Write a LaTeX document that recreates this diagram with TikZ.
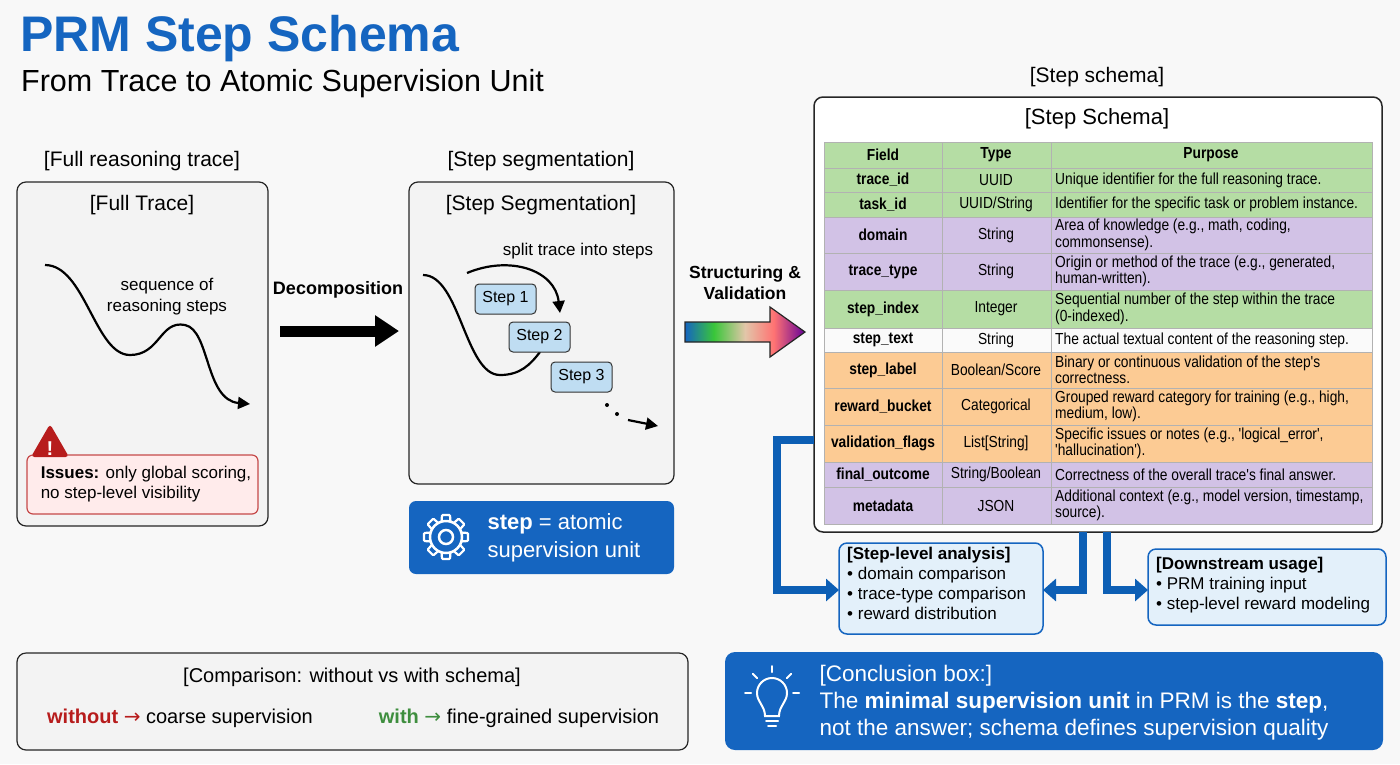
\documentclass[tikz,border=0pt]{standalone}
\usepackage{fontspec}
\setmainfont{Liberation Sans}
\newfontfamily\narrow[FakeStretch=0.86]{Liberation Sans}
\newfontfamily\dejavu{DejaVu Sans}
\usetikzlibrary{arrows.meta,shapes.geometric}
\definecolor{bg}{HTML}{F8F8F8}
\definecolor{boxf}{HTML}{F3F3F3}
\definecolor{tblue}{HTML}{1565C0}
\definecolor{dblue}{HTML}{0D5FB5}
\definecolor{lblue}{HTML}{E3F0FA}
\definecolor{sblue}{HTML}{BFDDF2}
\definecolor{rgreen}{HTML}{B5DDA4}
\definecolor{rviolet}{HTML}{D2C2E6}
\definecolor{rorange}{HTML}{FCCB94}
\definecolor{rwhite}{HTML}{FAFAFA}
\definecolor{wred}{HTML}{B71C1C}
\definecolor{wgreen}{HTML}{3E8E3E}
\pgfdeclarehorizontalshading{rainbow}{100bp}{color(0bp)=(tblue); color(25bp)=(tblue); color(37bp)=(green!55!gray); color(50bp)=(brown!45!white); color(62bp)=(red!55!white); color(75bp)=(violet!80!blue); color(100bp)=(violet!80!blue)}
\newcommand{\trow}[6]{%
  \fill[#3] (824,#1) rectangle (1372,#2);
  \draw[gray!60] (824,#1) rectangle (1372,#2);
  \draw[gray!60] (942,#1) -- (942,#2) (1051,#1) -- (1051,#2);
  \node[cell,font=\narrow\fontsize{16}{17}\selectfont\bfseries] at (883,{(#1+#2)/2}) {#4};
  \node[cell] at (996,{(#1+#2)/2}) {#5};
  \node[cell,anchor=west,align=left] at (1055,{(#1+#2)/2}) {#6};
}
\begin{document}
\begin{tikzpicture}[x=1pt,y=-1pt,
  panel/.style={draw=black!85,line width=1.2pt,rounded corners=9pt,fill=boxf},
  lbl/.style={font=\fontsize{21}{23}\selectfont,inner sep=0},
  cell/.style={font=\narrow\fontsize{16}{16.5}\selectfont,inner sep=0},
  stepb/.style={draw=black!80,line width=1pt,fill=sblue,rounded corners=4pt,minimum width=61pt,minimum height=30pt,font=\fontsize{16}{17}\selectfont},
  barrow/.style={draw=dblue,line width=8pt,-{Triangle[width=22pt,length=13pt]}},
  infob/.style={draw=tblue,line width=1.5pt,fill=lblue,rounded corners=8pt}]
\fill[bg] (0,0) rectangle (1400,764);
\useasboundingbox (0,0) rectangle (1400,764);
% titles
\node[anchor=west,inner sep=0,text=tblue,font=\fontsize{50}{52}\selectfont\bfseries] (title) at (20,39) {PRM Step Schema};
\node[anchor=west,inner sep=0,font=\fontsize{30.5}{32}\selectfont] (sub) at (21,84) {From Trace to Atomic Supervision Unit};
% full trace
\node[lbl] (l1) at (142,161) {[Full reasoning trace]};
\draw[panel] (17,182) rectangle (268,526);
\node[lbl] (t1) at (142,205) {[Full Trace]};
\draw[line width=2.2pt,-{Triangle[width=12pt,length=12pt]}] (45,265) .. controls (85,265) and (95,355) .. (130,355) .. controls (160,355) and (160,320) .. (185,325) .. controls (210,330) and (205,400) .. (250,404);
\node[align=center,font=\fontsize{17}{21}\selectfont] (seq) at (167,297) {sequence of\\reasoning steps};
\node[draw=wred!80,line width=1.2pt,fill=red!8,rounded corners=6pt,minimum width=231pt,minimum height=59pt] (iss) at (142.5,484.5) {};
\node[align=left,font=\fontsize{17}{20}\selectfont] (isst) at (146,484) {\textbf{Issues:} only global scoring,\\no step-level visibility};
\node[regular polygon,regular polygon sides=3,fill=wred,draw=wred,line width=2pt,rounded corners=2pt,minimum size=40pt,inner sep=0] (warn) at (50,446) {};
\node[text=white,font=\fontsize{20}{20}\selectfont\bfseries] (ex) at (50,449) {!};
% decomposition
\node[font=\fontsize{18}{20}\selectfont\bfseries] (dec) at (338,290) {Decomposition};
\coordinate (d1) at (280,331); \coordinate (d2) at (399,331);
\draw[line width=11pt,-{Triangle[width=30pt,length=24pt]}] (d1) -- (d2);
% segmentation
\node[lbl] (l2) at (541,161) {[Step segmentation]};
\draw[panel] (409,182) rectangle (674,484);
\node[lbl] (t2) at (541,205) {[Step Segmentation]};
\node[font=\fontsize{17}{19}\selectfont] (split) at (578,251) {split trace into steps};
\draw[line width=2.2pt] (423,275) .. controls (460,275) and (465,375) .. (500,375) .. controls (520,375) and (530,365) .. (540,352);
\draw[line width=2.2pt,-{Triangle[width=12pt,length=12pt]}] (467,273) .. controls (510,255) and (555,270) .. (560,313);
\node[stepb] (s1) at (505.5,299) {Step 1};
\node[stepb] (s2) at (539.5,337) {Step 2};
\node[stepb] (s3) at (581.5,377) {Step 3};
\fill (607,405) circle (2pt) (617,414) circle (2pt);
\coordinate (e1) at (628,420); \coordinate (e2) at (658,426);
\draw[line width=2.2pt,-{Triangle[width=12pt,length=12pt]}] (e1) -- (e2);
% step atomic box
\node[fill=tblue,rounded corners=7pt,minimum width=265pt,minimum height=73pt] (atom) at (541.5,537.5) {};
\node[text=white,align=left,font=\fontsize{22}{28}\selectfont,anchor=west] (atomt) at (484,538) {\textbf{step} = atomic\\supervision unit};
\begin{scope}[shift={(446,537)},white]
\foreach \a in {0,45,...,315} \draw[rotate=\a,line width=2.2pt,rounded corners=1pt] (-4.5,-15) -- (-4,-22) -- (4,-22) -- (4.5,-15);
\draw[line width=2.5pt] (0,0) circle (16);
\draw[line width=2.5pt] (0,0) circle (7);
\end{scope}
% structuring arrow
\node[align=center,font=\fontsize{17.5}{21}\selectfont\bfseries] (struct) at (745,283) {Structuring \&\\Validation};
\shade[shading=rainbow,draw=black!85,line width=1.2pt] (685,322) -- (770,322) -- (770,307) -- (805,332) -- (770,357) -- (770,342) -- (685,342) -- cycle;
\node[inner sep=0] (sarrow) at (745,332) {};
% schema
\node[lbl] (l3) at (1097,77) {[Step schema]};
\draw[panel,fill=white,line width=1.5pt] (814,97) rectangle (1382,532);
\node[font=\fontsize{22}{24}\selectfont,inner sep=0] (t3) at (1097,119) {[Step Schema]};
\trow{142}{168}{rgreen}{Field}{\bfseries Type}{}
\node[cell,font=\narrow\fontsize{16}{17}\selectfont\bfseries] (purp) at (1211,155) {Purpose};
\trow{168}{192}{rgreen}{trace\_id}{UUID}{Unique identifier for the full reasoning trace.}
\trow{192}{217}{rgreen}{task\_id}{UUID/String}{Identifier for the specific task or problem instance.}
\trow{217}{253}{rviolet}{domain}{String}{Area of knowledge (e.g., math, coding,\\commonsense).}
\trow{253}{290}{rviolet}{trace\_type}{String}{Origin or method of the trace (e.g., generated,\\human-written).}
\trow{290}{328}{rgreen}{step\_index}{Integer}{Sequential number of the step within the trace\\(0-indexed).}
\trow{328}{352}{rwhite}{step\_text}{String}{The actual textual content of the reasoning step.}
\trow{352}{388}{rorange}{step\_label}{Boolean/Score}{Binary or continuous validation of the step's\\correctness.}
\trow{388}{425}{rorange}{reward\_bucket}{Categorical}{Grouped reward category for training (e.g., high,\\medium, low).}
\trow{425}{462}{rorange}{validation\_flags}{List[String]}{Specific issues or notes (e.g., 'logical\_error',\\'hallucination').}
\trow{462}{487}{rviolet}{final\_outcome}{String/Boolean}{Correctness of the overall trace's final answer.}
\trow{487}{524}{rviolet}{metadata}{JSON}{Additional context (e.g., model version, timestamp,\\source).}
% analysis boxes
\draw[infob] (839,543) rectangle (1043,634);
\node[anchor=north west,align=left,inner sep=0,font=\fontsize{17}{20}\selectfont] (ana) at (847,547) {\textbf{[Step-level analysis]}\\• domain comparison\\• trace-type comparison\\• reward distribution};
\draw[infob] (1148,549) rectangle (1386,625);
\node[anchor=north west,align=left,inner sep=0,font=\fontsize{17}{20}\selectfont] (down) at (1156,557) {\textbf{[Downstream usage]}\\• PRM training input\\• step-level reward modeling};
\coordinate (a1) at (814,440); \coordinate (a1e) at (839,590);
\coordinate (a2) at (1083,532); \coordinate (a2e) at (1043,590);
\coordinate (a3) at (1107,532); \coordinate (a3e) at (1148,590);
\draw[barrow] (a1) -- (777,440) -- (777,590) -- (a1e);
\draw[barrow] (a2) -- (1083,590) -- (a2e);
\draw[barrow] (a3) -- (1107,590) -- (a3e);
% comparison
\draw[panel] (17,653) rectangle (688,750);
\node[lbl,font=\fontsize{20}{22}\selectfont] (cmp) at (352,677) {[Comparison: without vs with schema]};
\node[font=\fontsize{20}{22}\selectfont] (wo) at (180,718) {\textcolor{wred}{\textbf{without} {\dejavu →}} coarse supervision};
\node[font=\fontsize{20}{22}\selectfont] (wi) at (519,718) {\textcolor{wgreen}{\textbf{with} {\dejavu →}} fine-grained supervision};
% conclusion
\node[fill=tblue,rounded corners=10pt,minimum width=658pt,minimum height=98pt] (conc) at (1054,701) {};
\node[anchor=west,text=white,align=left,font=\fontsize{22.5}{27}\selectfont] (conct) at (816,703) {[Conclusion box:]\\The \textbf{minimal supervision unit} in PRM is the \textbf{step},\\not the answer; schema defines supervision quality};
\begin{scope}[shift={(772,702)},yscale=-1,white,line width=2pt,line cap=round]
\draw (-7,-14) .. controls (-7,-4) and (-15,0) .. (-15,9) arc (180:0:15) .. controls (15,0) and (7,-4) .. (7,-14) -- cycle;
\draw (-6,-19) -- (6,-19); \draw (-4,-24) -- (4,-24);
\foreach \a in {90,135,45,180,0} \draw ({21*cos(\a)},{9+21*sin(\a)}) -- ({27*cos(\a)},{9+27*sin(\a)});
\end{scope}
\end{tikzpicture}
\end{document}
